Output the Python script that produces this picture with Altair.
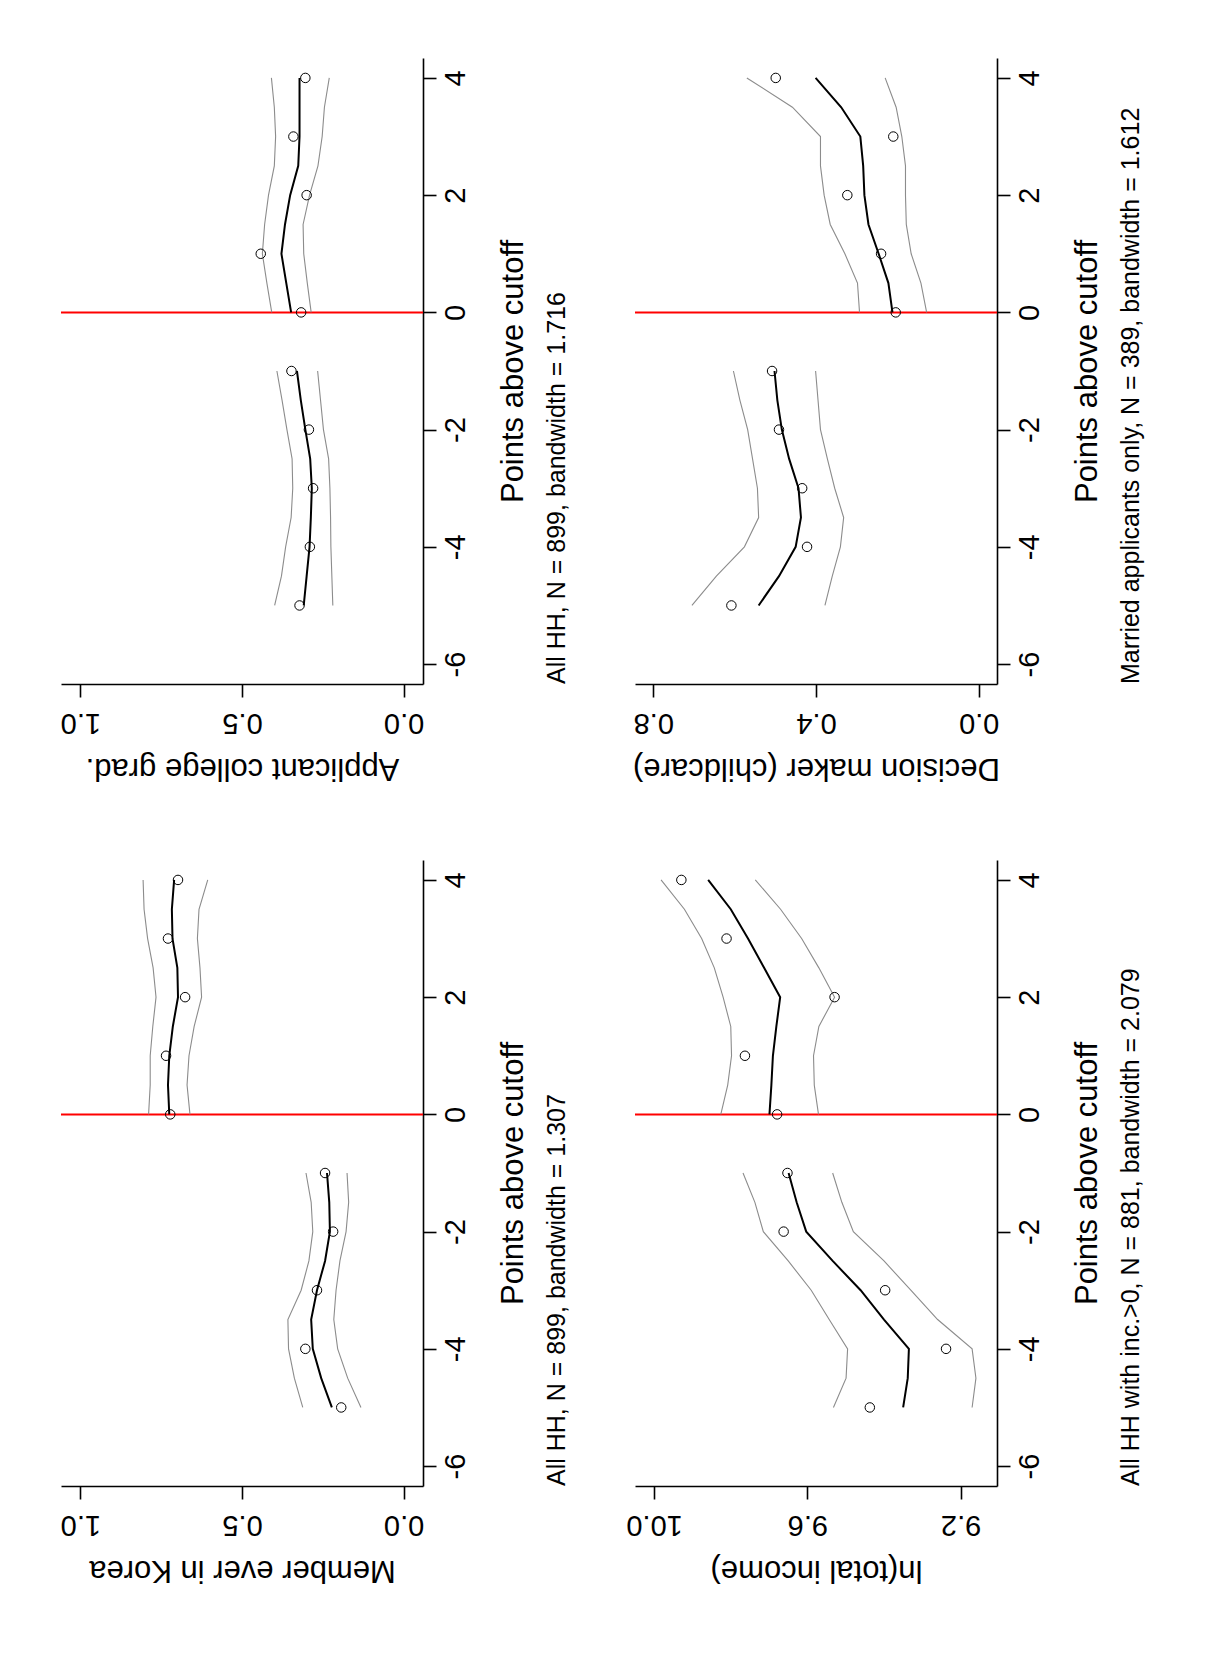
import altair as alt
import pandas as pd

FONT = "Liberation Sans"

# ---- shared positions (points above cutoff) ----
BIN_P = [-5, -4, -3, -2, -1, 0, 1, 2, 3, 4]
FIT_P_LEFT = [-5, -4.5, -4, -3.5, -3, -2.5, -2, -1.5, -1]
FIT_P_RIGHT = [0, 0.5, 1, 1.5, 2, 2.5, 3, 3.5, 4]
CUTOFF = [0]
P_TICKS = [-6, -4, -2, 0, 2, 4]

# ---- Applicant college grad. ----
college_bins = [0.322, 0.290, 0.280, 0.293, 0.347, 0.317, 0.442, 0.300, 0.341, 0.304]
college_fit_left = [0.309, 0.300, 0.291, 0.287, 0.284, 0.289, 0.304, 0.318, 0.330]
college_hi_left = [0.399, 0.378, 0.365, 0.348, 0.343, 0.345, 0.361, 0.376, 0.392]
college_lo_left = [0.219, 0.222, 0.225, 0.226, 0.228, 0.232, 0.248, 0.257, 0.266]
college_fit_right = [0.348, 0.363, 0.378, 0.367, 0.351, 0.326, 0.322, 0.322, 0.322]
college_hi_right = [0.408, 0.423, 0.437, 0.430, 0.418, 0.400, 0.396, 0.400, 0.409]
college_lo_right = [0.286, 0.298, 0.309, 0.311, 0.291, 0.265, 0.252, 0.245, 0.230]

# ---- Decision maker (childcare) ----
child_bins = [0.608, 0.422, 0.434, 0.491, 0.508, 0.204, 0.240, 0.323, 0.210, 0.499]
child_fit_left = [0.541, 0.491, 0.450, 0.437, 0.443, 0.466, 0.484, 0.495, 0.502]
child_hi_left = [0.705, 0.645, 0.576, 0.541, 0.544, 0.556, 0.568, 0.587, 0.603]
child_lo_left = [0.378, 0.360, 0.340, 0.332, 0.354, 0.372, 0.389, 0.395, 0.401]
child_fit_right = [0.212, 0.222, 0.246, 0.271, 0.281, 0.284, 0.291, 0.338, 0.401]
child_hi_right = [0.293, 0.298, 0.329, 0.365, 0.380, 0.389, 0.389, 0.458, 0.570]
child_lo_right = [0.128, 0.142, 0.166, 0.178, 0.180, 0.180, 0.189, 0.203, 0.230]

# ---- Member ever in Korea ----
korea_bins = [0.193, 0.304, 0.268, 0.218, 0.243, 0.722, 0.735, 0.676, 0.729, 0.698]
korea_fit_left = [0.222, 0.255, 0.281, 0.286, 0.268, 0.243, 0.228, 0.230, 0.237]
korea_hi_left = [0.312, 0.338, 0.356, 0.358, 0.317, 0.293, 0.281, 0.286, 0.302]
korea_lo_left = [0.132, 0.173, 0.204, 0.216, 0.209, 0.197, 0.178, 0.170, 0.175]
korea_fit_right = [0.725, 0.729, 0.725, 0.714, 0.698, 0.700, 0.715, 0.717, 0.710]
korea_hi_right = [0.789, 0.784, 0.784, 0.776, 0.766, 0.775, 0.792, 0.803, 0.806]
korea_lo_right = [0.661, 0.670, 0.664, 0.648, 0.625, 0.630, 0.638, 0.633, 0.606]

# ---- ln(total income) ----
income_bins = [9.437, 9.238, 9.397, 9.662, 9.652, 9.679, 9.763, 9.529, 9.811, 9.929]
income_fit_left = [9.350, 9.338, 9.335, 9.400, 9.461, 9.534, 9.603, 9.628, 9.649]
income_hi_left = [9.532, 9.499, 9.495, 9.543, 9.590, 9.650, 9.715, 9.737, 9.768]
income_lo_left = [9.170, 9.160, 9.170, 9.260, 9.330, 9.400, 9.480, 9.510, 9.534]
income_fit_right = [9.699, 9.694, 9.690, 9.681, 9.671, 9.713, 9.755, 9.800, 9.859]
income_hi_right = [9.826, 9.808, 9.798, 9.800, 9.820, 9.843, 9.876, 9.921, 9.982]
income_lo_right = [9.571, 9.582, 9.584, 9.570, 9.529, 9.570, 9.615, 9.670, 9.736]


def panel(ytitle, note, bins, fl, hl, ll, fr, hr, lr, xdom, xticks):
    pts = pd.DataFrame({"p": BIN_P, "v": bins})
    rows = []
    for kind, side, ps, vs in [
        ("fit", "L", FIT_P_LEFT, fl), ("hi", "L", FIT_P_LEFT, hl), ("lo", "L", FIT_P_LEFT, ll),
        ("fit", "R", FIT_P_RIGHT, fr), ("hi", "R", FIT_P_RIGHT, hr), ("lo", "R", FIT_P_RIGHT, lr),
    ]:
        for p, v in zip(ps, vs):
            rows.append({"p": p, "v": v, "kind": kind, "grp": kind + side})
    lines = pd.DataFrame(rows)
    cut = pd.DataFrame({"p": CUTOFF})

    x = alt.X(
        "v:Q",
        scale=alt.Scale(domain=xdom, reverse=True, nice=False, zero=False),
        axis=alt.Axis(
            orient="bottom", values=xticks, format=".1f",
            labelAngle=180, labelAlign="center", labelBaseline="bottom",
            labelFont=FONT, labelFontSize=29, labelColor="black", labelPadding=10,
            labelFlush=False, labelOverlap=False,
            tickSize=13, tickWidth=1.6, tickColor="black",
            domainColor="black", domainWidth=1.6, grid=False,
            title=ytitle, titleAngle=180, titleAlign="center", titleBaseline="bottom",
            titleFont=FONT, titleFontSize=31, titleFontWeight="normal",
            titleColor="black", titlePadding=15,
        ),
    )
    y = alt.Y(
        "p:Q",
        scale=alt.Scale(domain=[-6.34, 4.34], nice=False, zero=False),
        axis=alt.Axis(
            orient="right", values=P_TICKS, labelExpr="datum.value + ''",
            labelAngle=270, labelAlign="center", labelBaseline="top",
            labelFont=FONT, labelFontSize=29, labelColor="black", labelPadding=5,
            labelFlush=False, labelOverlap=False,
            tickSize=13, tickWidth=1.6, tickColor="black",
            domainColor="black", domainWidth=1.6, grid=False,
            title="Points above cutoff", titleAngle=270, titleAlign="center",
            titleBaseline="top", titleFont=FONT, titleFontSize=31,
            titleFontWeight="normal", titleColor="black", titlePadding=28,
        ),
    )

    rule = alt.Chart(cut).mark_rule(color="#ff0000", strokeWidth=2).encode(y=y)
    ci = alt.Chart(lines[lines["kind"] != "fit"]).mark_line(
        color="#8c8c8c", strokeWidth=1.1
    ).encode(x=x, y=y, detail="grp:N", order="p:Q")
    fit = alt.Chart(lines[lines["kind"] == "fit"]).mark_line(
        color="black", strokeWidth=2
    ).encode(x=x, y=y, detail="grp:N", order="p:Q")
    dots = alt.Chart(pts).mark_point(
        shape="circle", filled=False, color="black", size=90, strokeWidth=1, opacity=1
    ).encode(x=x, y=y)

    return alt.layer(rule, ci, fit, dots).properties(
        width=362,
        height=626,
        title=alt.TitleParams(
            note, orient="right", anchor="end", angle=270, align="left",
            baseline="top", frame="group", offset=-8, font=FONT, fontSize=25,
            fontWeight="normal", color="black",
        ),
    )


college = panel("Applicant college grad.", "All HH, N = 899, bandwidth = 1.716",
                college_bins, college_fit_left, college_hi_left, college_lo_left,
                college_fit_right, college_hi_right, college_lo_right,
                [-0.06, 1.06], [0, 0.5, 1.0])
child = panel("Decision maker (childcare)", "Married applicants only, N = 389, bandwidth = 1.612",
              child_bins, child_fit_left, child_hi_left, child_lo_left,
              child_fit_right, child_hi_right, child_lo_right,
              [-0.045, 0.845], [0, 0.4, 0.8])
korea = panel("Member ever in Korea", "All HH, N = 899, bandwidth = 1.307",
              korea_bins, korea_fit_left, korea_hi_left, korea_lo_left,
              korea_fit_right, korea_hi_right, korea_lo_right,
              [-0.06, 1.06], [0, 0.5, 1.0])
income = panel("ln(total income)", "All HH with inc.>0, N = 881, bandwidth = 2.079",
               income_bins, income_fit_left, income_hi_left, income_lo_left,
               income_fit_right, income_hi_right, income_lo_right,
               [9.105, 10.05], [9.2, 9.6, 10.0])

chart = alt.concat(
    college, child, korea, income,
    columns=2,
    spacing=alt.RowColnumber(row=176, column=212),
    bounds="flush",
).properties(
    padding={"left": 52, "top": 50, "right": 5, "bottom": 5},
    background="white",
).configure(
    font=FONT,
    view=alt.ViewConfig(stroke="transparent", strokeWidth=0),
)

chart.save("out.html", embed_options={"renderer": "svg", "actions": False})
